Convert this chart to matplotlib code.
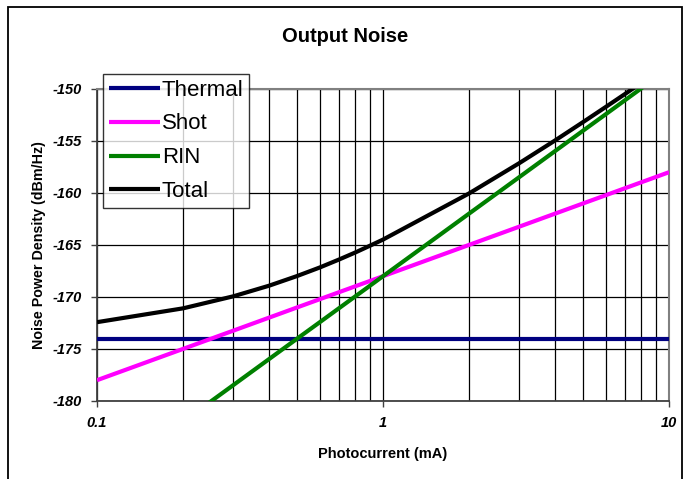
import matplotlib
matplotlib.use("Agg")
import matplotlib.pyplot as plt
from matplotlib.patches import Rectangle
from matplotlib.font_manager import FontProperties
from matplotlib.ticker import LogLocator, FixedLocator, NullFormatter

plt.rcParams['font.family'] = ['Liberation Sans', 'DejaVu Sans']

# Data (photocurrent in mA, noise in dBm/Hz)
current = [0.1, 0.2, 0.3, 0.4, 0.5, 0.6, 0.7, 0.8, 0.9, 1,
           2, 3, 4, 5, 6, 7, 8, 9, 10]
thermal = [-174.0] * 19
shot = [-178.0, -174.99, -173.23, -171.98, -171.01, -170.22, -169.55, -168.97, -168.46, -168.0,
        -164.99, -163.23, -161.98, -161.01, -160.22, -159.55, -158.97, -158.46, -158.0]
rin = [-188.0, -181.98, -178.46, -175.96, -174.02, -172.44, -171.10, -169.94, -168.92, -168.0,
       -161.98, -158.46, -155.96, -154.02, -152.44, -151.10, -149.94, -148.92, -148.0]
total = [-172.42, -171.09, -169.93, -168.91, -167.99, -167.17, -166.41, -165.72, -165.07, -164.48,
         -160.04, -157.12, -154.94, -153.19, -151.74, -150.50, -149.41, -148.44, -147.58]

series_names = ["Thermal", "Shot", "RIN", "Total"]
series_vals = [thermal, shot, rin, total]
series_colors = ["#000080", "#FF00FF", "#008000", "#000000"]

yticks = [-180, -175, -170, -165, -160, -155, -150]
xticks = [0.1, 1, 10]
xticklabels = ["0.1", "1", "10"]

fig = plt.figure(figsize=(6.85, 4.79), dpi=100)
W, H = 685, 479
ax = fig.add_axes([97 / W, 1 - 401 / H, (669 - 97) / W, (401 - 89) / H])

# chart-area border
fig.patches.append(Rectangle((8 / W, -0.05), (682 - 8) / W, 1 - 7 / H + 0.05,
                             transform=fig.transFigure, fill=False,
                             edgecolor='black', linewidth=1.3, zorder=0))

for name, vals, col in zip(series_names, series_vals, series_colors):
    ax.plot(current, vals, color=col, linewidth=3.0, label=name, zorder=3,
            solid_capstyle='butt')

ax.set_xscale('log')
ax.set_xlim(0.1, 10)
ax.set_ylim(-180, -150)

tickfp = FontProperties(family='Liberation Sans', weight='bold', style='italic', size=10.5)
ax.xaxis.set_major_locator(FixedLocator(xticks))
ax.set_xticklabels(xticklabels, fontproperties=tickfp)
ax.xaxis.set_minor_locator(LogLocator(base=10, subs=range(2, 10)))
ax.xaxis.set_minor_formatter(NullFormatter())
ax.set_yticks(yticks)
ax.set_yticklabels([str(v) for v in yticks], fontproperties=tickfp)

ax.grid(True, which='both', axis='x', color='black', linewidth=0.9, zorder=1)
ax.grid(True, which='major', axis='y', color='black', linewidth=0.9, zorder=1)

ax.tick_params(axis='both', which='major', direction='out', length=4,
               width=1, color='#404040', pad=7)
ax.tick_params(axis='x', which='major', pad=7)
ax.tick_params(axis='x', which='minor', length=0)

for side in ['top', 'right']:
    ax.spines[side].set_color('#808080')
    ax.spines[side].set_linewidth(1.5)
for side in ['left', 'bottom']:
    ax.spines[side].set_color('#404040')
    ax.spines[side].set_linewidth(1.3)

ax.set_xlabel("Photocurrent (mA)", fontsize=10.5, fontweight='bold', labelpad=12)
ax.set_ylabel("Noise Power Density (dBm/Hz)", fontsize=10.3, fontweight='bold', labelpad=5)
fig.text(345 / W, 1 - 37 / H, "Output Noise", ha='center', va='center',
         fontsize=14.5, fontweight='bold')

leg = ax.legend(loc='upper left', bbox_to_anchor=(6 / 572, (401 - 74) / 312),
                fontsize=16, frameon=True, fancybox=False, shadow=False,
                handlelength=2.3, handletextpad=0.1, borderpad=0.25,
                labelspacing=0.58, borderaxespad=0)
leg.get_frame().set_edgecolor('black')
leg.get_frame().set_linewidth(1.0)
leg.set_zorder(5)

fig.savefig("out.png", dpi=100)
